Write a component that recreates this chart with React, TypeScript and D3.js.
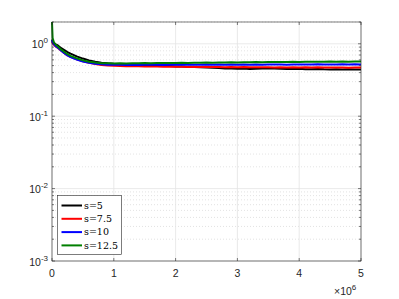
import React from 'react';
import * as d3 from 'd3';

// x positions in units of 1e6
const xM = [0, 0.01, 0.03, 0.06, 0.1, 0.15, 0.2, 0.25, 0.3, 0.4, 0.5, 0.6, 0.7, 0.8, 0.9, 1.0,
  1.1, 1.2, 1.3, 1.4, 1.5, 1.6, 1.7, 1.8, 1.9, 2.0, 2.1, 2.2, 2.3, 2.4, 2.5, 2.6, 2.7, 2.8, 2.9, 3.0,
  3.1, 3.2, 3.3, 3.4, 3.5, 3.6, 3.7, 3.8, 3.9, 4.0, 4.1, 4.2, 4.3, 4.4, 4.5, 4.6, 4.7, 4.8, 4.9, 5.0];

const s5 = [1.15, 1.08, 1.02, 0.98, 0.94, 0.87, 0.82, 0.77, 0.73, 0.67, 0.625, 0.59, 0.565, 0.548, 0.537, 0.53,
  0.527, 0.52, 0.517, 0.51, 0.507, 0.5, 0.499, 0.494, 0.492, 0.487,
  0.486, 0.48, 0.479, 0.474, 0.471, 0.466, 0.463, 0.457, 0.456, 0.451,
  0.455, 0.449, 0.453, 0.455, 0.459, 0.454, 0.452, 0.449, 0.448, 0.451,
  0.446, 0.445, 0.448, 0.444, 0.443, 0.446, 0.441, 0.444, 0.442, 0.443];
const s7_5 = [1.08, 1.02, 0.97, 0.92, 0.87, 0.8, 0.74, 0.69, 0.66, 0.61, 0.575, 0.545, 0.525, 0.51, 0.502, 0.496,
  0.493, 0.49, 0.488, 0.491, 0.486, 0.484, 0.487, 0.482, 0.485, 0.481,
  0.483, 0.479, 0.482, 0.478, 0.48, 0.477, 0.479, 0.476, 0.478, 0.475,
  0.477, 0.474, 0.476, 0.473, 0.476, 0.472, 0.475, 0.471, 0.474, 0.472,
  0.473, 0.47, 0.473, 0.469, 0.472, 0.47, 0.471, 0.468, 0.471, 0.469];
const s10 = [1.12, 1.05, 0.99, 0.93, 0.88, 0.8, 0.74, 0.69, 0.655, 0.605, 0.57, 0.545, 0.53, 0.52, 0.515, 0.512,
  0.513, 0.51, 0.514, 0.511, 0.515, 0.512, 0.514, 0.511, 0.515, 0.513,
  0.516, 0.512, 0.515, 0.513, 0.517, 0.514, 0.516, 0.513, 0.517, 0.515,
  0.518, 0.514, 0.517, 0.515, 0.518, 0.516, 0.519, 0.515, 0.518, 0.516,
  0.519, 0.516, 0.52, 0.517, 0.519, 0.517, 0.52, 0.518, 0.52, 0.518];
const s12_5 = [2.0, 1.2, 1.05, 0.97, 0.91, 0.83, 0.77, 0.72, 0.68, 0.63, 0.59, 0.565, 0.55, 0.54, 0.537, 0.535,
  0.538, 0.536, 0.54, 0.538, 0.542, 0.539, 0.543, 0.541, 0.545, 0.543,
  0.547, 0.545, 0.549, 0.547, 0.551, 0.549, 0.553, 0.551, 0.555, 0.553,
  0.557, 0.555, 0.559, 0.557, 0.561, 0.559, 0.562, 0.56, 0.564, 0.562,
  0.565, 0.563, 0.567, 0.565, 0.568, 0.566, 0.569, 0.567, 0.57, 0.568];

const labels = ['s=5', 's=7.5', 's=10', 's=12.5'];
const colors = ['#000000', '#ff0000', '#0000ff', '#007f00'];
const seriesList = [s5, s7_5, s10, s12_5];

const xTicks = [0, 1, 2, 3, 4, 5];
const yDecades = [-3, -2, -1, 0];

const W = 399, H = 299;
const left = 52, right = 361, top = 22, bottom = 261;
const axisCol = '#262626';
const tickFont = '"Liberation Sans", Arial, sans-serif';

const App = () => {
  const x = d3.scaleLinear().domain([0, 5e6]).range([left, right]);
  const y = d3.scaleLog().domain([1e-3, 2]).range([bottom, top]);

  const line = d3.line<number>()
    .x((_, i) => x(xM[i] * 1e6))
    .y(d => y(d));

  const minors: number[] = [];
  yDecades.forEach(e => {
    for (let k = 2; k <= 9; k++) {
      const v = k * Math.pow(10, e);
      if (v <= 2) minors.push(v);
    }
  });

  return (
    <svg width={W} height={H} style={{ position: 'absolute', left: 0, top: 0 }}>
      <rect x={0} y={0} width={W} height={H} fill="#fff" />
      <rect x={left} y={top} width={right - left} height={bottom - top} fill="#fff" />
      {/* minor grid */}
      {minors.map((v, i) => (
        <line key={'mg' + i} x1={left} x2={right} y1={y(v)} y2={y(v)}
          stroke="#d0d0d0" strokeWidth={0.6} strokeDasharray="1,2" />
      ))}
      {/* major grid */}
      {yDecades.map(e => (
        <line key={'yg' + e} x1={left} x2={right} y1={y(Math.pow(10, e))} y2={y(Math.pow(10, e))}
          stroke="#e3e3e3" strokeWidth={0.8} />
      ))}
      {xTicks.map(t => (
        <line key={'xg' + t} x1={x(t * 1e6)} x2={x(t * 1e6)} y1={top} y2={bottom}
          stroke="#e3e3e3" strokeWidth={0.8} />
      ))}
      {/* series */}
      {seriesList.map((s, i) => (
        <path key={labels[i]} d={line(s) || ''} fill="none" stroke={colors[i]} strokeWidth={2}
          strokeLinejoin="round" />
      ))}
      {/* box */}
      <rect x={left} y={top} width={right - left} height={bottom - top} fill="none"
        stroke={axisCol} strokeWidth={0.6} />
      {/* ticks */}
      {xTicks.map(t => (
        <g key={'xt' + t}>
          <line x1={x(t * 1e6)} x2={x(t * 1e6)} y1={bottom} y2={bottom - 3} stroke={axisCol} strokeWidth={0.6} />
          <line x1={x(t * 1e6)} x2={x(t * 1e6)} y1={top} y2={top + 3} stroke={axisCol} strokeWidth={0.6} />
          <text x={x(t * 1e6)} y={277} textAnchor="middle" fontSize={10.5}
            fontFamily={tickFont} fill={axisCol}>{t}</text>
        </g>
      ))}
      {minors.map((v, i) => (
        <g key={'mt' + i}>
          <line x1={left} x2={left + 2} y1={y(v)} y2={y(v)} stroke={axisCol} strokeWidth={0.6} />
          <line x1={right} x2={right - 2} y1={y(v)} y2={y(v)} stroke={axisCol} strokeWidth={0.6} />
        </g>
      ))}
      {yDecades.map(e => (
        <g key={'yt' + e}>
          <line x1={left} x2={left + 3} y1={y(Math.pow(10, e))} y2={y(Math.pow(10, e))} stroke={axisCol} strokeWidth={0.6} />
          <line x1={right} x2={right - 3} y1={y(Math.pow(10, e))} y2={y(Math.pow(10, e))} stroke={axisCol} strokeWidth={0.6} />
          <text x={48} y={y(Math.pow(10, e)) + 4.5} textAnchor="end" fontSize={10.5}
            fontFamily={tickFont} fill={axisCol}>
            10<tspan dy={-5} fontSize={8}>{e}</tspan>
          </text>
        </g>
      ))}
      {/* x exponent */}
      <text x={334} y={295} fontSize={10.5} fontFamily={tickFont} fill={axisCol}>
        ×10<tspan dy={-5} fontSize={8}>6</tspan>
      </text>
      {/* legend */}
      <rect x={57.5} y={195.5} width={64} height={59} fill="#fff" stroke={axisCol} strokeWidth={0.6} />
      {labels.map((l, i) => (
        <g key={'lg' + l} transform={`translate(0,${205.5 + i * 13.3})`}>
          <line x1={61.5} x2={82} y1={0} y2={0} stroke={colors[i]} strokeWidth={2} />
          <text x={84} y={3.3} fontSize={9.5} fontFamily='"DejaVu Serif", "Liberation Serif", serif'
            fill="#000">{l}</text>
        </g>
      ))}
    </svg>
  );
};

export default App;
